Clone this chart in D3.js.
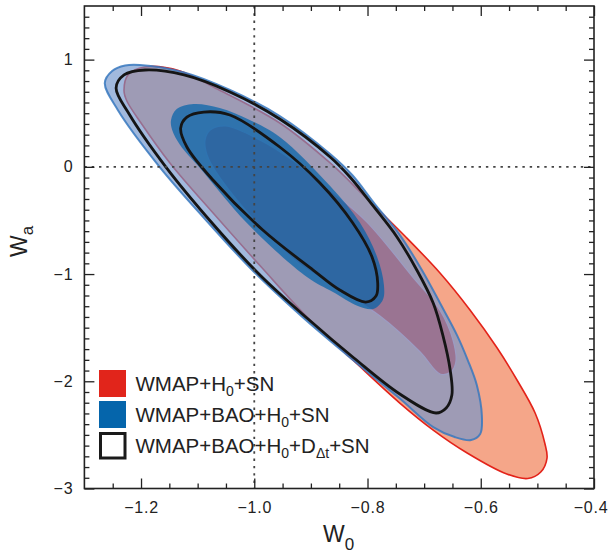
<!DOCTYPE html>
<html><head><meta charset="utf-8">
<script src="https://cdn.jsdelivr.net/npm/d3@7"></script>
<style>body{margin:0;background:#fff;} svg{display:block;}</style>
</head><body>
<svg id="chart" width="610" height="556"></svg>
<script>
// ---- data (w0, wa) ----
const xMajorTicks = [-1.2, -1.0, -0.8, -0.6, -0.4];
const xMinorTicks = [-1.25, -1.15, -1.1, -1.05, -0.95, -0.9, -0.85, -0.75, -0.7, -0.65, -0.55, -0.5, -0.45];
const yMajorTicks = [-3, -2, -1, 0, 1];
const yMinorTicks = [-2.9,-2.8,-2.7,-2.6,-2.5,-2.4,-2.3,-2.2,-2.1,-1.9,-1.8,-1.7,-1.6,-1.5,-1.4,-1.3,-1.2,-1.1,
  -0.9,-0.8,-0.7,-0.6,-0.5,-0.4,-0.3,-0.2,-0.1,0.1,0.2,0.3,0.4,0.5,0.6,0.7,0.8,0.9,1.1,1.2,1.3,1.4];
const refW0 = -1.0;
const refWa = 0;

// WMAP+H0+SN, 95% contour
const red95 = [[-1.230,0.707],[-1.223,0.857],[-1.193,0.931],[-1.131,0.894],[-1.069,0.735],[-0.955,0.409],
  [-0.866,0.036],[-0.804,-0.281],[-0.734,-0.645],[-0.672,-0.990],[-0.619,-1.335],[-0.571,-1.690],[-0.536,-1.988],
  [-0.504,-2.296],[-0.487,-2.576],[-0.483,-2.716],[-0.494,-2.846],[-0.517,-2.907],[-0.554,-2.865],[-0.624,-2.669],
  [-0.684,-2.455],[-0.743,-2.203],[-0.824,-1.811],[-0.905,-1.410],[-0.986,-0.944],[-1.068,-0.459],[-1.149,0.036],
  [-1.200,0.409],[-1.225,0.614]];
// WMAP+H0+SN, 68% contour
const red68 = [[-1.087,0.250],[-1.078,0.343],[-1.050,0.381],[-0.990,0.250],[-0.928,0.045],[-0.866,-0.216],
  [-0.801,-0.515],[-0.720,-1.028],[-0.672,-1.336],[-0.649,-1.615],[-0.644,-1.821],[-0.653,-1.914],[-0.672,-1.932],
  [-0.707,-1.727],[-0.778,-1.392],[-0.849,-1.149],[-0.925,-0.888],[-1.008,-0.450],[-1.073,-0.002],[-1.085,0.138]];
// WMAP+BAO+H0+SN, 95% contour
const blue95 = [[-1.264,0.782],[-1.251,0.894],[-1.228,0.945],[-1.202,0.950],[-1.124,0.880],[-1.043,0.717],
  [-0.955,0.474],[-0.866,0.120],[-0.827,-0.076],[-0.787,-0.347],[-0.744,-0.627],[-0.704,-0.962],[-0.672,-1.270],
  [-0.642,-1.569],[-0.623,-1.802],[-0.607,-2.035],[-0.598,-2.324],[-0.601,-2.492],[-0.617,-2.548],[-0.646,-2.520],
  [-0.684,-2.427],[-0.743,-2.161],[-0.831,-1.778],[-0.916,-1.396],[-1.002,-0.972],[-1.087,-0.487],[-1.167,-0.002],
  [-1.241,0.530]];
// WMAP+BAO+H0+SN, 68% contour
const blue68 = [[-1.147,0.437],[-1.137,0.539],[-1.107,0.586],[-1.061,0.548],[-1.008,0.437],[-0.955,0.278],
  [-0.866,-0.179],[-0.813,-0.524],[-0.783,-0.841],[-0.771,-1.102],[-0.773,-1.242],[-0.790,-1.326],[-0.817,-1.298],
  [-0.861,-1.168],[-0.907,-1.028],[-1.013,-0.524],[-1.096,-0.011],[-1.131,0.203],[-1.145,0.343]];
// WMAP+BAO+H0+DΔt+SN, 95% contour
const black95 = [[-1.244,0.735],[-1.230,0.857],[-1.193,0.903],[-1.124,0.857],[-1.043,0.698],[-0.955,0.446],
  [-0.866,0.092],[-0.831,-0.095],[-0.790,-0.365],[-0.748,-0.654],[-0.713,-0.962],[-0.684,-1.270],[-0.667,-1.569],
  [-0.654,-1.895],[-0.651,-2.128],[-0.661,-2.249],[-0.679,-2.296],[-0.743,-2.119],[-0.824,-1.783],[-0.907,-1.410],
  [-0.990,-1.009],[-1.073,-0.533],[-1.156,-0.002],[-1.221,0.493]];
// WMAP+BAO+H0+DΔt+SN, 68% contour
const black68 = [[-1.130,0.362],[-1.119,0.464],[-1.089,0.511],[-1.043,0.483],[-0.955,0.185],[-0.884,-0.151],
  [-0.826,-0.524],[-0.792,-0.841],[-0.782,-1.084],[-0.785,-1.205],[-0.803,-1.261],[-0.849,-1.149],[-0.896,-0.963],
  [-0.985,-0.589],[-1.073,-0.123],[-1.119,0.185]];

const legendLabels = [
  [["WMAP+H",""],["0","sub"],["+SN",""]],
  [["WMAP+BAO+H",""],["0","sub"],["+SN",""]],
  [["WMAP+BAO+H",""],["0","sub"],["+D",""],["\u0394t","sub"],["+SN",""]]
];

// ---- drawing ----
const svg = d3.select("#chart");
const FONT = "'Liberation Sans', Arial, Helvetica, sans-serif";
const x = d3.scaleLinear().domain([-1.3, -0.4]).range([84.4, 594]);
const y = d3.scaleLinear().domain([-3, 1.5]).range([488.5, 6]);

const line = d3.line().x(d => x(d[0])).y(d => y(d[1])).curve(d3.curveCatmullRomClosed.alpha(0.5));

const plot = svg.append("g");
plot.append("path").attr("d", line(red95)).attr("fill", "#f5a689").attr("stroke", "#e3231a").attr("stroke-width", 1.6);
plot.append("path").attr("d", line(red68)).attr("fill", "#eb3723").attr("stroke", "#f0aab4").attr("stroke-width", 1.2);
plot.append("path").attr("d", line(blue95)).attr("fill", "rgb(112,149,203)").attr("fill-opacity", 0.66)
  .attr("stroke", "rgb(55,120,190)").attr("stroke-opacity", 0.85).attr("stroke-width", 2);
plot.append("path").attr("d", line(blue68)).attr("fill", "rgb(0,99,170)").attr("fill-opacity", 0.7);
plot.append("path").attr("d", line(black95)).attr("fill", "none").attr("stroke", "#151515").attr("stroke-width", 2.8);
plot.append("path").attr("d", line(black68)).attr("fill", "none").attr("stroke", "#151515").attr("stroke-width", 2.8);

// reference dotted lines
svg.append("line").attr("x1", x(refW0)).attr("x2", x(refW0)).attr("y1", y(1.5)).attr("y2", y(-3))
  .attr("stroke", "#444").attr("stroke-width", 1.8).attr("stroke-dasharray", "2.4,4.9");
svg.append("line").attr("x1", x(-1.3)).attr("x2", x(-0.4)).attr("y1", y(refWa)).attr("y2", y(refWa))
  .attr("stroke", "#444").attr("stroke-width", 1.8).attr("stroke-dasharray", "2.4,4.9");

// axes
function styleAxis(g) {
  g.select(".domain").remove();
  g.attr("color", "#222").attr("font-family", FONT).attr("font-size", 16);
  g.selectAll(".tick line").attr("stroke-width", 1.3);
  g.selectAll("text").attr("fill", "#222").attr("letter-spacing", "0.8px");
}
const B = y(-3), T = y(1.5), L = x(-1.3), R = x(-0.4);
const xAxisG = svg.append("g").attr("transform", `translate(0,${B})`)
  .call(d3.axisBottom(x).tickValues(xMajorTicks).tickSize(-10).tickPadding(13).tickFormat(d3.format(".1f"))).call(styleAxis);
// keep the last label inside the picture, as in the original
xAxisG.selectAll(".tick text").filter(d => d === -0.4).attr("text-anchor", "end").attr("x", 14);
svg.append("g").attr("transform", `translate(0,${B})`)
  .call(d3.axisBottom(x).tickValues(xMinorTicks).tickSize(-5).tickFormat("")).call(styleAxis);
svg.append("g").attr("transform", `translate(0,${T})`)
  .call(d3.axisTop(x).tickValues(xMajorTicks).tickSize(-10).tickFormat("")).call(styleAxis);
svg.append("g").attr("transform", `translate(0,${T})`)
  .call(d3.axisTop(x).tickValues(xMinorTicks).tickSize(-5).tickFormat("")).call(styleAxis);
svg.append("g").attr("transform", `translate(${L},0)`)
  .call(d3.axisLeft(y).tickValues(yMajorTicks).tickSize(-10).tickPadding(11).tickFormat(d3.format("d"))).call(styleAxis);
svg.append("g").attr("transform", `translate(${L},0)`)
  .call(d3.axisLeft(y).tickValues(yMinorTicks).tickSize(-5).tickFormat("")).call(styleAxis);
svg.append("g").attr("transform", `translate(${R},0)`)
  .call(d3.axisRight(y).tickValues(yMajorTicks).tickSize(-10).tickFormat("")).call(styleAxis);
svg.append("g").attr("transform", `translate(${R},0)`)
  .call(d3.axisRight(y).tickValues(yMinorTicks).tickSize(-5).tickFormat("")).call(styleAxis);

// frame
svg.append("rect").attr("x", L).attr("y", T).attr("width", R - L).attr("height", B - T)
  .attr("fill", "none").attr("stroke", "#222").attr("stroke-width", 1.6);

// axis titles
const xt = svg.append("text").attr("x", 323).attr("y", 542).attr("font-family", FONT).attr("fill", "#222");
xt.append("tspan").attr("font-size", 23).text("W");
xt.append("tspan").attr("font-size", 17).attr("dy", 8).text("0");
const yt = svg.append("text").attr("transform", "translate(27,257) rotate(-90)").attr("font-family", FONT).attr("fill", "#222");
yt.append("tspan").attr("font-size", 23).text("W");
yt.append("tspan").attr("font-size", 17).attr("dy", 6).text("a");

// legend
const legY = [370, 401, 432];
svg.append("rect").attr("x", 99).attr("y", legY[0]).attr("width", 27).attr("height", 27).attr("fill", "#e1251b");
svg.append("rect").attr("x", 99).attr("y", legY[1]).attr("width", 27).attr("height", 27).attr("fill", "#0565ab");
svg.append("rect").attr("x", 100.5).attr("y", legY[2] + 1.5).attr("width", 24.5).attr("height", 24.5)
  .attr("fill", "#fff").attr("stroke", "#1a1a1a").attr("stroke-width", 3);
legendLabels.forEach((segs, i) => {
  const t = svg.append("text").attr("x", 135.5).attr("y", legY[i] + 20.5)
    .attr("font-family", FONT).attr("font-size", 20.5).attr("fill", "#222");
  let shifted = false;
  segs.forEach(([s, kind]) => {
    const ts = t.append("tspan").text(s);
    if (kind === "sub") {
      ts.attr("font-size", 14).attr("dy", shifted ? 0 : 5);
      shifted = true;
    } else {
      if (shifted) ts.attr("dy", -5);
      shifted = false;
    }
  });
});
</script>
</body></html>
